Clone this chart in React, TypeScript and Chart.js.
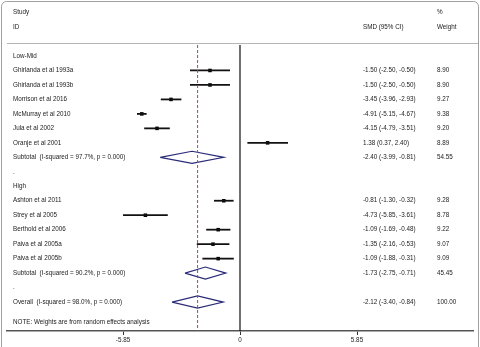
import React, { useEffect, useRef } from "react";
import { Chart, registerables } from "chart.js";

Chart.register(...registerables);

// ---- data ----
const rowLabels = [
  "Low-Mid",
  "Ghirlanda et al 1993a",
  "Ghirlanda et al 1993b",
  "Morrison et al 2016",
  "McMurray et al 2010",
  "Jula et al 2002",
  "Oranje et al 2001",
  "Subtotal  (I-squared = 97.7%, p = 0.000)",
  ".",
  "High",
  "Ashton et al 2011",
  "Strey et al 2005",
  "Berthold et al 2006",
  "Paiva et al 2005a",
  "Paiva et al 2005b",
  "Subtotal  (I-squared = 90.2%, p = 0.000)",
  ".",
  "Overall  (I-squared = 98.0%, p = 0.000)",
];
const rowKinds = [
  "group", "study", "study", "study", "study", "study", "study", "pooled", "blank",
  "group", "study", "study", "study", "study", "study", "pooled", "blank", "pooled",
];
const estimates = [null, -1.5, -1.5, -3.45, -4.91, -4.15, 1.38, -2.4, null, null, -0.81, -4.73, -1.09, -1.35, -1.09, -1.73, null, -2.12];
const lowers = [null, -2.5, -2.5, -3.96, -5.15, -4.79, 0.37, -3.99, null, null, -1.3, -5.85, -1.69, -2.16, -1.88, -2.75, null, -3.4];
const uppers = [null, -0.5, -0.5, -2.93, -4.67, -3.51, 2.4, -0.81, null, null, -0.32, -3.61, -0.48, -0.53, -0.31, -0.71, null, -0.84];
const weights = [null, 8.9, 8.9, 9.27, 9.38, 9.2, 8.89, 54.55, null, null, 9.28, 8.78, 9.22, 9.07, 9.09, 45.45, null, 100.0];
const overallEstimate = -2.12;
const xTickValues = [-5.85, 0, 5.85];
const xTickLabels = ["-5.85", "0", "5.85"];
const noteText = "NOTE: Weights are from random effects analysis";

// ---- layout constants ----
const X_MIN = -11.65;
const X_MAX = 11.65;
const Y_MIN = -0.76;
const Y_MAX = 19.0;
const LABEL_COL = -11.35;
const SMD_COL = 6.15;
const WEIGHT_COL = 9.85;
const NOTE_ROW = 18.4;
const DIAMOND_HALF = 0.42;
const FONT = "6.3px 'Liberation Sans', Arial, sans-serif";
const TEXT_COLOR = "#222";

export default function App() {
  const ref = useRef<HTMLCanvasElement | null>(null);

  useEffect(() => {
    document.body.style.margin = "0";
    const canvas = ref.current;
    if (!canvas) return;

    const datasets: any[] = [];
    // zero line
    datasets.push({
      data: [{ x: 0, y: Y_MIN }, { x: 0, y: Y_MAX }],
      showLine: true,
      borderColor: "#111",
      borderWidth: 1.2,
      pointRadius: 0,
    });
    // overall dashed line
    datasets.push({
      data: [{ x: overallEstimate, y: Y_MIN }, { x: overallEstimate, y: Y_MAX }],
      showLine: true,
      borderColor: "#a8484f",
      borderWidth: 1,
      borderDash: [3, 2],
      pointRadius: 0,
    });
    rowKinds.forEach((k, i) => {
      const e = estimates[i], lo = lowers[i], hi = uppers[i];
      if (e === null || lo === null || hi === null) return;
      if (k === "study") {
        datasets.push({
          data: [{ x: lo, y: i }, { x: hi, y: i }],
          showLine: true,
          borderColor: "#111",
          borderWidth: 1.8,
          pointRadius: 0,
        });
        datasets.push({
          data: [{ x: e, y: i }],
          showLine: false,
          pointStyle: "rect",
          pointRadius: 2.5,
          backgroundColor: "#000",
          borderColor: "#000",
          borderWidth: 0,
        });
      } else if (k === "pooled") {
        datasets.push({
          data: [
            { x: lo, y: i },
            { x: e, y: i - DIAMOND_HALF },
            { x: hi, y: i },
            { x: e, y: i + DIAMOND_HALF },
            { x: lo, y: i },
          ],
          showLine: true,
          borderColor: "#2b2c78",
          borderWidth: 1.2,
          pointRadius: 0,
          tension: 0,
        });
      }
    });

    const textPlugin = {
      id: "forestText",
      beforeDraw(chart: any) {
        const ctx = chart.ctx;
        ctx.save();
        ctx.strokeStyle = "#a0a0a0";
        ctx.lineWidth = 1;
        ctx.beginPath();
        (ctx as any).roundRect(1.5, 1.5, chart.width - 3, chart.height + 10, 5);
        ctx.stroke();
        ctx.restore();
      },
      afterDraw(chart: any) {
        const ctx = chart.ctx;
        const xs = chart.scales.x;
        const ys = chart.scales.y;
        const area = chart.chartArea;
        ctx.save();
        // header rule
        ctx.strokeStyle = "#b5b5b5";
        ctx.lineWidth = 1;
        ctx.beginPath();
        ctx.moveTo(area.left, area.top - 1.5);
        ctx.lineTo(chart.width - 2, area.top - 1.5);
        ctx.stroke();

        ctx.fillStyle = TEXT_COLOR;
        ctx.font = FONT;
        ctx.textBaseline = "middle";
        ctx.textAlign = "left";
        const lx = xs.getPixelForValue(LABEL_COL);
        const sx = xs.getPixelForValue(SMD_COL);
        const wx = xs.getPixelForValue(WEIGHT_COL);
        // headers
        ctx.fillText("Study", lx, ys.getPixelForValue(-3));
        ctx.fillText("ID", lx, ys.getPixelForValue(-2));
        ctx.fillText("SMD (95% CI)", sx, ys.getPixelForValue(-2));
        ctx.fillText("%", wx, ys.getPixelForValue(-3));
        ctx.fillText("Weight", wx, ys.getPixelForValue(-2));
        rowLabels.forEach((label, i) => {
          const y = ys.getPixelForValue(i);
          ctx.fillText(label, lx, y);
          const e = estimates[i], lo = lowers[i], hi = uppers[i], w = weights[i];
          if (e !== null && lo !== null && hi !== null) {
            ctx.fillText(`${e.toFixed(2)} (${lo.toFixed(2)}, ${hi.toFixed(2)})`, sx, y);
          }
          if (w !== null) ctx.fillText(w.toFixed(2), wx, y);
        });
        ctx.fillText(noteText, lx, ys.getPixelForValue(NOTE_ROW));
        ctx.restore();
      },
    };

    const chart = new Chart(canvas, {
      type: "scatter",
      data: { datasets },
      options: {
        animation: false,
        responsive: true,
        maintainAspectRatio: false,
        layout: { padding: { top: 45, left: 7, right: 7, bottom: 0 } },
        plugins: { legend: { display: false }, tooltip: { enabled: false } },
        elements: { line: { tension: 0 } },
        scales: {
          x: {
            type: "linear",
            min: X_MIN,
            max: X_MAX,
            afterBuildTicks: (scale: any) => {
              scale.ticks = xTickValues.map((v) => ({ value: v }));
            },
            afterFit: (scale: any) => {
              scale.height = 16;
            },
            grid: {
              drawOnChartArea: false,
              drawTicks: true,
              tickLength: 4,
              color: "#333",
              lineWidth: 1,
            },
            border: { display: true, color: "#555", width: 1.5 },
            ticks: {
              autoSkip: false,
              maxRotation: 0,
              padding: 1,
              color: TEXT_COLOR,
              font: { family: "'Liberation Sans', Arial, sans-serif", size: 6.3 },
              callback: (v: any) => {
                const idx = xTickValues.indexOf(Number(v));
                return idx >= 0 ? xTickLabels[idx] : "";
              },
            },
          },
          y: {
            type: "linear",
            display: false,
            min: Y_MIN,
            max: Y_MAX,
            reverse: true,
          },
        },
      },
      plugins: [textPlugin],
    });
    return () => chart.destroy();
  }, []);

  return (
    <div style={{ width: 480, height: 347, position: "relative", background: "#fff" }}>
      <canvas ref={ref} />
    </div>
  );
}
